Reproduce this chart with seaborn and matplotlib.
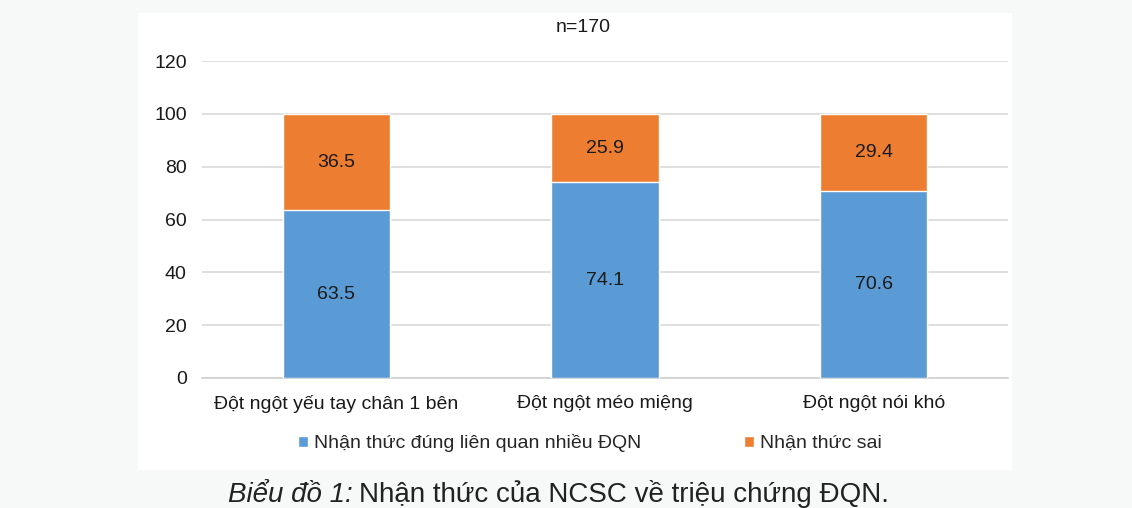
import numpy as np
import pandas as pd
import seaborn as sns
from matplotlib import pyplot as plt
from matplotlib.patches import Rectangle

categories = ['Đột ngột yếu tay chân 1 bên', 'Đột ngột méo miệng', 'Đột ngột nói khó']
correct = [63.5, 74.1, 70.6]
wrong = [36.5, 25.9, 29.4]
series_names = ['Nhận thức đúng liên quan nhiều ĐQN', 'Nhận thức sai']
title = 'n=170'

blue = '#5b9bd5'
orange = '#ed7d31'
fs = 14

sns.set_style('white')
plt.rcParams['font.family'] = ['Liberation Sans', 'DejaVu Sans']

df = pd.DataFrame({'cat': categories, 'correct': correct, 'wrong': wrong})
df['total'] = df['correct'] + df['wrong']

fig = plt.figure(figsize=(11.32, 5.08), dpi=100, facecolor='#f7f8f8')
# white chart panel
fig.add_artist(Rectangle((138 / 1132, 1 - 470 / 508), (1012 - 138) / 1132, (470 - 13) / 508,
                         transform=fig.transFigure, facecolor='white', edgecolor='none', zorder=0))

ax = fig.add_axes([202 / 1132, 1 - 378 / 508, (1008 - 202) / 1132, (378 - 61) / 508])
ax.set_facecolor('white')

# stacked bars: total (orange) behind, correct (blue) in front
sns.barplot(data=df, x='cat', y='total', color=orange, width=0.4, saturation=1,
            label=series_names[1], ax=ax, zorder=3)
sns.barplot(data=df, x='cat', y='correct', color=blue, width=0.4, saturation=1,
            label=series_names[0], ax=ax, zorder=3)

ax.bar_label(ax.containers[1], labels=['%.1f' % v for v in correct], label_type='center',
             fontsize=fs, color='#1a1a1a')
for i, (c, w) in enumerate(zip(correct, wrong)):
    ax.text(i, c + w / 2, '%.1f' % w, ha='center', va='center', fontsize=fs, color='#1a1a1a', zorder=4)

ax.set_ylim(0, 120)
ax.set_yticks(np.arange(0, 121, 20))
ax.set_xlim(-0.5, 2.5)
ax.grid(axis='y', color='#d9d9d9', linewidth=1.2, zorder=0)
ax.set_axisbelow(True)
for s in ['top', 'right', 'left']:
    ax.spines[s].set_visible(False)
ax.spines['bottom'].set_color('#d0d0d0')
ax.spines['bottom'].set_linewidth(1.2)
ax.tick_params(axis='both', length=0, labelsize=fs, colors='#1a1a1a')
ax.tick_params(axis='x', pad=12)
ax.tick_params(axis='y', pad=11)
ax.set_xlabel('')
ax.set_ylabel('')
if ax.get_legend() is not None:
    ax.get_legend().remove()

fig.text(583 / 1132, 1 - 28 / 508, title, ha='center', va='center', fontsize=fs, color='#1a1a1a')

handles, labels = ax.get_legend_handles_labels()
order = [labels.index(n) for n in series_names]
fig.legend([handles[i] for i in order], [labels[i] for i in order], loc='center',
           bbox_to_anchor=(590 / 1132, 1 - 443 / 508), ncol=2, frameon=False, fontsize=fs,
           handlelength=0.5, handleheight=0.5, handletextpad=0.3, columnspacing=5.3)

# caption below chart panel
t1 = fig.text(228 / 1132, 1 - 502 / 508, 'Biểu đồ 1:', fontsize=20, style='italic',
              va='baseline', ha='left', color='#222222')
fig.canvas.draw()
bb = t1.get_window_extent()
fig.text(bb.x1 / fig.bbox.width + 6 / 1132, 1 - 502 / 508, 'Nhận thức của NCSC về triệu chứng ĐQN.',
         fontsize=20, va='baseline', ha='left', color='#222222')

fig.savefig('out.png', dpi=100, facecolor=fig.get_facecolor())
